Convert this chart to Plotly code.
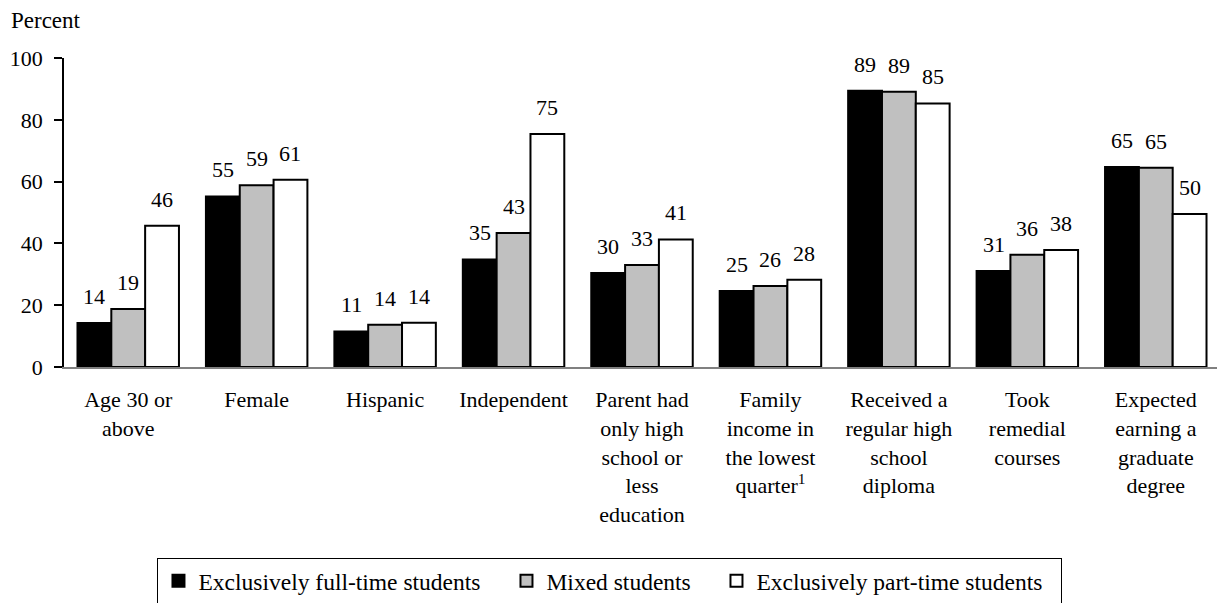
import plotly.graph_objects as go

categories = [
    "Age 30 or<br>above",
    "Female",
    "Hispanic",
    "Independent",
    "Parent had<br>only high<br>school or<br>less<br>education",
    "Family<br>income in<br>the lowest<br>quarter<sup>1</sup>",
    "Received a<br>regular high<br>school<br>diploma",
    "Took<br>remedial<br>courses",
    "Expected<br>earning a<br>graduate<br>degree",
]

full_time = [14.2, 55.2, 11.5, 34.8, 30.4, 24.6, 89.4, 31.1, 64.7]
mixed = [18.8, 58.8, 13.7, 43.4, 33.0, 26.2, 89.1, 36.3, 64.5]
part_time = [45.7, 60.6, 14.3, 75.4, 41.3, 28.2, 85.3, 37.9, 49.5]

full_labels = ["14", "55", "11", "35", "30", "25", "89", "31", "65"]
mixed_labels = ["19", "59", "14", "43", "33", "26", "89", "36", "65"]
part_labels = ["46", "61", "14", "75", "41", "28", "85", "38", "50"]

series_names = ["Exclusively full-time students", "Mixed students", "Exclusively part-time students"]
series_colors = ["black", "#C0C0C0", "white"]
legend_widths = [303, 165, 300]

FONT = "Liberation Serif"
BARGAP = 0.21

fig = go.Figure()
all_vals = [full_time, mixed, part_time]
all_labels = [full_labels, mixed_labels, part_labels]
for name, vals, color, lw in zip(series_names, all_vals, series_colors, legend_widths):
    fig.add_trace(go.Bar(
        x=categories, y=vals, name=name, legendwidth=lw,
        marker=dict(color=color, line=dict(color="black", width=2)),
    ))

bw = (1 - BARGAP) / 3
for j, (vals, labs) in enumerate(zip(all_vals, all_labels)):
    for i, (v, t) in enumerate(zip(vals, labs)):
        fig.add_annotation(
            x=i + (j - 1) * bw, y=v, xref="x", yref="y",
            text=t, showarrow=False, yanchor="bottom", yshift=12,
            font=dict(family=FONT, size=22, color="black"),
        )

fig.add_annotation(
    x=-0.0476, y=1.12, xref="paper", yref="paper",
    text="Percent", showarrow=False, xanchor="left", yanchor="middle",
    font=dict(family=FONT, size=23, color="black"),
)

fig.update_layout(
    template="none",
    width=1225, height=603,
    margin=dict(l=56, r=13, t=50, b=244, autoexpand=False),
    paper_bgcolor="white", plot_bgcolor="white",
    barmode="group", bargap=BARGAP, bargroupgap=0,
    font=dict(family=FONT, size=21, color="black"),
    showlegend=True,
    legend=dict(
        orientation="h", x=0.4723, xanchor="center", y=-0.618, yanchor="top",
        bordercolor="black", borderwidth=1, bgcolor="white",
        font=dict(family=FONT, size=23.5, color="black"),
        itemwidth=30, traceorder="normal",
    ),
    xaxis=dict(
        type="category", showline=True, linecolor="#808080", linewidth=2,
        automargin=False,
        ticks="outside", ticklen=12, tickcolor="rgba(0,0,0,0)",
        tickfont=dict(family=FONT, size=22, color="black"),
        showgrid=False, zeroline=False, tickangle=0,
    ),
    yaxis=dict(
        range=[0, 100], tickvals=[0, 20, 40, 60, 80, 100],
        automargin=False,
        showline=True, linecolor="black", linewidth=1.5,
        ticks="outside", ticklen=8, tickcolor="black", tickwidth=1.5,
        ticklabelstandoff=7,
        tickfont=dict(family=FONT, size=22, color="black"),
        showgrid=False, zeroline=False,
    ),
)

fig.write_html("out.html")
